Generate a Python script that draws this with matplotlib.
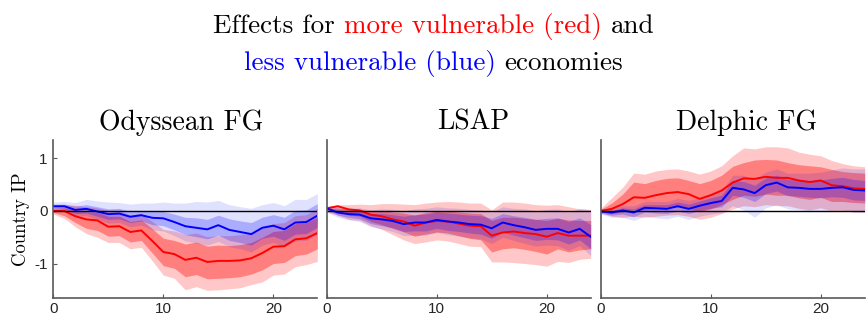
import numpy as np
import matplotlib
matplotlib.use("Agg")
import matplotlib.pyplot as plt

# ---------------- data ----------------
horizon = np.arange(25)
panel_titles = ["Odyssean FG", "LSAP", "Delphic FG"]
x_ticks = [0, 10, 20]
y_ticks = [-1, 0, 1]
y_tick_labels = ["-1", "0", "1"]

# Odyssean forward guidance
ody_red_mid = [0.00, 0.00, -0.10, -0.16, -0.18, -0.30, -0.29, -0.40, -0.37, -0.57, -0.78, -0.82, -0.93,
               -0.89, -0.97, -0.95, -0.95, -0.94, -0.90, -0.80, -0.68, -0.67, -0.54, -0.52, -0.42]
ody_red_lo90 = [-0.06, -0.14, -0.30, -0.43, -0.50, -0.60, -0.60, -0.72, -0.69, -0.95, -1.22, -1.28, -1.50,
                -1.44, -1.51, -1.50, -1.48, -1.46, -1.40, -1.35, -1.22, -1.20, -1.06, -1.02, -0.96]
ody_red_lo68 = [-0.03, -0.09, -0.22, -0.33, -0.37, -0.48, -0.47, -0.59, -0.56, -0.80, -1.04, -1.09, -1.25,
                -1.21, -1.29, -1.28, -1.27, -1.25, -1.20, -1.12, -1.00, -0.98, -0.85, -0.82, -0.72]
ody_red_hi68 = [0.04, 0.06, 0.02, -0.02, -0.02, -0.10, -0.10, -0.20, -0.17, -0.34, -0.52, -0.56, -0.63,
                -0.59, -0.67, -0.65, -0.66, -0.64, -0.60, -0.50, -0.39, -0.37, -0.24, -0.22, -0.12]
ody_red_hi90 = [0.08, 0.12, 0.11, 0.08, 0.06, 0.00, 0.00, -0.08, -0.05, -0.20, -0.35, -0.38, -0.45,
                -0.42, -0.49, -0.47, -0.47, -0.45, -0.42, -0.33, -0.24, -0.22, -0.09, -0.07, 0.05]
ody_blue_mid = [0.09, 0.09, 0.02, 0.04, -0.01, -0.06, -0.05, -0.11, -0.08, -0.13, -0.14, -0.21, -0.29,
                -0.32, -0.35, -0.27, -0.36, -0.40, -0.44, -0.32, -0.28, -0.35, -0.22, -0.21, -0.09]
ody_blue_hi90 = [0.17, 0.18, 0.16, 0.22, 0.19, 0.17, 0.16, 0.13, 0.15, 0.15, 0.17, 0.15, 0.15,
                 0.18, 0.17, 0.20, 0.12, 0.08, 0.05, 0.12, 0.16, 0.10, 0.22, 0.22, 0.33]
ody_blue_hi68 = [0.13, 0.13, 0.09, 0.12, 0.08, 0.04, 0.05, -0.01, 0.01, -0.01, -0.01, -0.06, -0.12,
                 -0.13, -0.16, -0.08, -0.15, -0.19, -0.22, -0.12, -0.07, -0.12, 0.01, 0.02, 0.14]
ody_blue_lo68 = [0.05, 0.04, -0.05, -0.04, -0.10, -0.16, -0.15, -0.22, -0.19, -0.26, -0.28, -0.36, -0.45,
                 -0.49, -0.53, -0.46, -0.56, -0.60, -0.65, -0.52, -0.48, -0.56, -0.44, -0.43, -0.31]
ody_blue_lo90 = [0.01, 0.00, -0.10, -0.09, -0.16, -0.23, -0.22, -0.30, -0.27, -0.36, -0.38, -0.47, -0.57,
                 -0.61, -0.65, -0.58, -0.68, -0.72, -0.78, -0.65, -0.60, -0.68, -0.57, -0.56, -0.45]

# Large-scale asset purchases
lsap_red_mid = [0.05, 0.09, 0.03, 0.01, -0.07, -0.10, -0.16, -0.20, -0.28, -0.22, -0.19, -0.20, -0.24,
                -0.28, -0.29, -0.47, -0.41, -0.39, -0.42, -0.44, -0.49, -0.42, -0.47, -0.47, -0.47]
lsap_red_hi90 = [0.08, 0.12, 0.12, 0.13, 0.12, 0.14, 0.14, 0.13, 0.12, 0.15, 0.17, 0.18, 0.17,
                 0.15, 0.15, 0.02, 0.17, 0.17, 0.15, 0.12, 0.11, 0.12, 0.08, 0.04, 0.03]
lsap_red_hi68 = [0.05, 0.06, 0.04, 0.03, -0.01, 0.00, -0.02, -0.04, -0.08, -0.03, 0.00, 0.00, -0.02,
                 -0.04, -0.05, -0.18, -0.12, -0.12, -0.14, -0.16, -0.18, -0.14, -0.17, -0.18, -0.18]
lsap_red_lo68 = [0.03, 0.00, -0.08, -0.10, -0.20, -0.26, -0.33, -0.40, -0.48, -0.44, -0.40, -0.42, -0.47,
                 -0.52, -0.55, -0.78, -0.72, -0.70, -0.73, -0.77, -0.82, -0.72, -0.78, -0.74, -0.72]
lsap_red_lo90 = [-0.02, -0.08, -0.16, -0.18, -0.28, -0.35, -0.45, -0.55, -0.62, -0.59, -0.55, -0.57, -0.62,
                 -0.67, -0.68, -0.97, -0.97, -0.98, -1.00, -1.02, -1.05, -0.96, -0.98, -0.92, -0.90]
lsap_blue_mid = [0.05, -0.03, -0.06, -0.07, -0.14, -0.16, -0.19, -0.25, -0.22, -0.22, -0.17, -0.20, -0.22,
                 -0.25, -0.26, -0.33, -0.22, -0.27, -0.31, -0.36, -0.34, -0.34, -0.41, -0.34, -0.49]
lsap_blue_hi90 = [0.10, 0.06, 0.05, 0.06, 0.02, 0.04, 0.03, 0.00, 0.04, 0.05, 0.08, 0.06, 0.05,
                  0.03, 0.02, -0.02, 0.08, 0.05, 0.04, 0.00, 0.03, 0.04, -0.02, 0.05, 0.02]
lsap_blue_hi68 = [0.07, 0.02, 0.00, 0.00, -0.05, -0.05, -0.07, -0.10, -0.07, -0.06, -0.02, -0.04, -0.06,
                  -0.08, -0.09, -0.14, -0.05, -0.09, -0.12, -0.16, -0.14, -0.13, -0.20, -0.13, -0.26]
lsap_blue_lo68 = [0.02, -0.08, -0.12, -0.15, -0.24, -0.28, -0.32, -0.39, -0.38, -0.38, -0.33, -0.37, -0.39,
                  -0.42, -0.44, -0.52, -0.40, -0.46, -0.51, -0.56, -0.54, -0.55, -0.63, -0.55, -0.72]
lsap_blue_lo90 = [-0.02, -0.12, -0.17, -0.20, -0.30, -0.34, -0.39, -0.47, -0.46, -0.46, -0.41, -0.45, -0.48,
                  -0.51, -0.53, -0.62, -0.50, -0.56, -0.62, -0.67, -0.65, -0.66, -0.75, -0.66, -0.85]

# Delphic forward guidance
del_red_mid = [0.00, 0.04, 0.13, 0.26, 0.25, 0.30, 0.34, 0.36, 0.32, 0.23, 0.30, 0.39, 0.54,
               0.62, 0.61, 0.65, 0.63, 0.63, 0.58, 0.55, 0.58, 0.49, 0.47, 0.43, 0.42]
del_red_hi90 = [0.05, 0.25, 0.45, 0.72, 0.70, 0.76, 0.79, 0.80, 0.76, 0.70, 0.76, 0.86, 1.05,
                1.20, 1.18, 1.22, 1.22, 1.20, 1.12, 1.08, 1.05, 0.96, 0.90, 0.86, 0.84]
del_red_hi68 = [0.03, 0.15, 0.32, 0.55, 0.52, 0.58, 0.62, 0.63, 0.58, 0.52, 0.58, 0.68, 0.85,
                0.92, 0.97, 0.98, 0.97, 0.92, 0.88, 0.86, 0.84, 0.79, 0.75, 0.73, 0.72]
del_red_lo68 = [-0.02, -0.05, -0.02, 0.03, 0.02, 0.05, 0.07, 0.08, 0.05, -0.02, 0.04, 0.12, 0.22,
                0.30, 0.28, 0.32, 0.30, 0.30, 0.25, 0.22, 0.26, 0.18, 0.18, 0.16, 0.15]
del_red_lo90 = [-0.04, -0.10, -0.12, -0.10, -0.12, -0.10, -0.08, -0.07, -0.10, -0.16, -0.12, -0.05, 0.04,
                0.10, 0.08, 0.12, 0.10, 0.10, 0.05, 0.02, 0.06, 0.00, 0.00, -0.02, -0.02]
del_blue_mid = [-0.01, -0.03, 0.01, -0.03, 0.06, 0.05, 0.04, 0.09, 0.04, 0.10, 0.15, 0.19, 0.44,
                0.41, 0.34, 0.49, 0.54, 0.45, 0.44, 0.42, 0.42, 0.44, 0.45, 0.40, 0.39]
del_blue_hi90 = [0.04, 0.05, 0.10, 0.10, 0.18, 0.18, 0.18, 0.24, 0.20, 0.26, 0.32, 0.38, 0.68,
                 0.68, 0.60, 0.74, 0.80, 0.72, 0.72, 0.72, 0.74, 0.78, 0.82, 0.80, 0.80]
del_blue_hi68 = [0.02, 0.01, 0.06, 0.04, 0.12, 0.12, 0.12, 0.17, 0.13, 0.19, 0.25, 0.30, 0.58,
                 0.56, 0.49, 0.63, 0.68, 0.60, 0.59, 0.58, 0.59, 0.62, 0.64, 0.60, 0.58]
del_blue_lo68 = [-0.04, -0.08, -0.06, -0.11, -0.02, -0.04, -0.05, 0.00, -0.05, 0.01, 0.05, 0.08, 0.30,
                 0.26, 0.18, 0.33, 0.38, 0.29, 0.28, 0.26, 0.25, 0.27, 0.26, 0.21, 0.20]
del_blue_lo90 = [-0.06, -0.12, -0.12, -0.18, -0.10, -0.13, -0.15, -0.10, -0.16, -0.10, -0.06, -0.03, 0.10,
                 0.02, -0.12, 0.06, 0.12, 0.04, 0.02, 0.00, 0.00, 0.02, 0.02, -0.02, -0.03]

panels = [
    (ody_red_mid, ody_red_lo90, ody_red_lo68, ody_red_hi68, ody_red_hi90,
     ody_blue_mid, ody_blue_lo90, ody_blue_lo68, ody_blue_hi68, ody_blue_hi90),
    (lsap_red_mid, lsap_red_lo90, lsap_red_lo68, lsap_red_hi68, lsap_red_hi90,
     lsap_blue_mid, lsap_blue_lo90, lsap_blue_lo68, lsap_blue_hi68, lsap_blue_hi90),
    (del_red_mid, del_red_lo90, del_red_lo68, del_red_hi68, del_red_hi90,
     del_blue_mid, del_blue_lo90, del_blue_lo68, del_blue_hi68, del_blue_hi90),
]

# ---------------- style ----------------
W, H = 866, 322
SERIF = "cmr10"
TICK_FONT = "Liberation Sans"
RED = (1.0, 0.0, 0.0)
BLUE = (0.0, 0.0, 1.0)
AX_COLOR = "0.35"

fig = plt.figure(figsize=(W / 100, H / 100), dpi=100)

ax_left_px = [53.3, 326.7, 600.7]
ax_width_px = 264.0
ax_top_px, ax_bottom_px = 140.0, 297.7
title_center_px = [181, 473, 747]

for i, (ax_x, data) in enumerate(zip(ax_left_px, panels)):
    (r_mid, r_lo90, r_lo68, r_hi68, r_hi90,
     b_mid, b_lo90, b_lo68, b_hi68, b_hi90) = data
    ax = fig.add_axes([ax_x / W, 1 - ax_bottom_px / H,
                       ax_width_px / W, (ax_bottom_px - ax_top_px) / H])

    # red: bands, then line
    ax.fill_between(horizon, r_lo90, r_hi90, color=RED, alpha=0.22, lw=0)
    ax.fill_between(horizon, r_lo68, r_hi68, color=RED, alpha=0.36, lw=0)
    ax.plot(horizon, r_mid, color=RED, lw=1.4)
    # blue drawn on top
    ax.fill_between(horizon, b_lo90, b_hi90, color=BLUE, alpha=0.12, lw=0)
    ax.fill_between(horizon, b_lo68, b_hi68, color=BLUE, alpha=0.23, lw=0)
    ax.plot(horizon, b_mid, color=BLUE, lw=1.4)

    ax.axhline(0, color="black", lw=1.0)

    ax.set_xlim(0, 24)
    ax.set_ylim(-1.65, 1.35)
    for side in ("top", "right"):
        ax.spines[side].set_visible(False)
    for side in ("left", "bottom"):
        ax.spines[side].set_color(AX_COLOR)
        ax.spines[side].set_linewidth(1.2)

    ax.set_xticks(x_ticks)
    ax.set_xticklabels([str(t) for t in x_ticks], fontfamily=TICK_FONT, fontsize=11, color="0.15")
    ax.tick_params(axis="x", direction="in", length=3, color=AX_COLOR, pad=3)
    if i == 0:
        ax.set_yticks(y_ticks)
        ax.set_yticklabels(y_tick_labels, fontfamily=TICK_FONT, fontsize=11, color="0.15")
        ax.tick_params(axis="y", direction="in", length=3, color=AX_COLOR, pad=4)
        ax.set_ylabel("Country IP", fontfamily=SERIF, fontsize=13.5, labelpad=3)
    else:
        ax.set_yticks([])

    fig.text(title_center_px[i] / W, 1 - 129.5 / H, panel_titles[i],
             fontfamily=SERIF, fontsize=20, ha="center", va="baseline")

# ---------------- two-line coloured heading ----------------
heading_lines = [
    ([("Effects for", "black"), ("more vulnerable (red)", RED), ("and", "black")], 33.0),
    ([("less vulnerable (blue)", BLUE), ("economies", "black")], 70.0),
]
heading_size = 19.5
renderer = fig.canvas.get_renderer()


def text_width(s):
    t = fig.text(0, 0, s, fontfamily=SERIF, fontsize=heading_size)
    w = t.get_window_extent(renderer).width
    t.remove()
    return w


space_px = text_width("x x") - text_width("xx")
for segments, baseline_px in heading_lines:
    widths = [text_width(s) for s, _ in segments]
    total = sum(widths) + space_px * (len(segments) - 1)
    x = 433.5 - total / 2
    for (s, c), w in zip(segments, widths):
        fig.text(x / W, 1 - baseline_px / H, s, color=c, fontfamily=SERIF,
                 fontsize=heading_size, ha="left", va="baseline")
        x += w + space_px

fig.savefig("out.png", dpi=100)
